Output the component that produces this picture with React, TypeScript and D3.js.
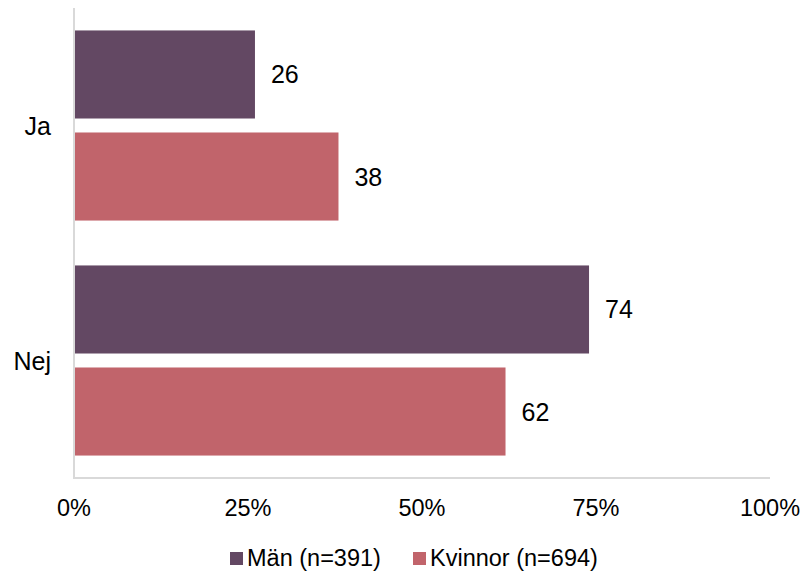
import React from "react";
import * as d3 from "d3";

const categories = ["Ja", "Nej"];
const seriesNames = ["Män (n=391)", "Kvinnor (n=694)"];
const manValues = [26, 74];
const kvinnorValues = [38, 62];
const xTicks = [0, 25, 50, 75, 100];
const colors = ["#634863", "#C1646B"];

const W = 804;
const H = 572;
const FONT = "'Liberation Sans', Arial, sans-serif";

export default function App() {
  const x = d3.scaleLinear().domain([0, 100]).range([74, 770]);
  const y = d3.scaleBand<string>().domain(categories).range([8, 478]).padding(0);
  const yi = d3
    .scaleBand<string>()
    .domain(seriesNames)
    .range([0, y.bandwidth()])
    .paddingInner(0.137)
    .paddingOuter(0.22);
  const seriesValues = [manValues, kvinnorValues];

  const legendX = [230, 413];

  return (
    <svg
      width={W}
      height={H}
      style={{ position: "absolute", left: 0, top: 0, display: "block", background: "#fff" }}
      fontFamily={FONT}
    >
      {categories.map((c, ci) => (
        <g key={c}>
          {seriesNames.map((s, si) => {
            const v = seriesValues[si][ci];
            const by = (y(c) as number) + (yi(s) as number);
            return (
              <g key={s}>
                <rect x={x(0)} y={by} width={x(v) - x(0)} height={yi.bandwidth()} fill={colors[si]} />
                <text
                  x={x(v) + 16}
                  y={by + yi.bandwidth() / 2}
                  dy="0.36em"
                  fontSize={25}
                  fill="#000"
                >
                  {v}
                </text>
              </g>
            );
          })}
          <text
            x={51}
            y={(y(c) as number) + y.bandwidth() / 2}
            dy="0.36em"
            textAnchor="end"
            fontSize={25}
            fill="#000"
          >
            {c}
          </text>
        </g>
      ))}
      <line x1={x(0)} x2={x(0)} y1={8} y2={479} stroke="#d9d9d9" strokeWidth={2} />
      <line x1={x(0) - 1} x2={x(100)} y1={478} y2={478} stroke="#d9d9d9" strokeWidth={2} />
      {xTicks.map((t) => (
        <text key={t} x={x(t)} y={516} textAnchor="middle" fontSize={23.5} fill="#000">
          {t + "%"}
        </text>
      ))}
      {seriesNames.map((s, si) => (
        <g key={s}>
          <rect x={legendX[si]} y={552} width={13} height={13} fill={colors[si]} />
          <text x={legendX[si] + 17} y={566} fontSize={23.5} fill="#000">
            {s}
          </text>
        </g>
      ))}
    </svg>
  );
}
